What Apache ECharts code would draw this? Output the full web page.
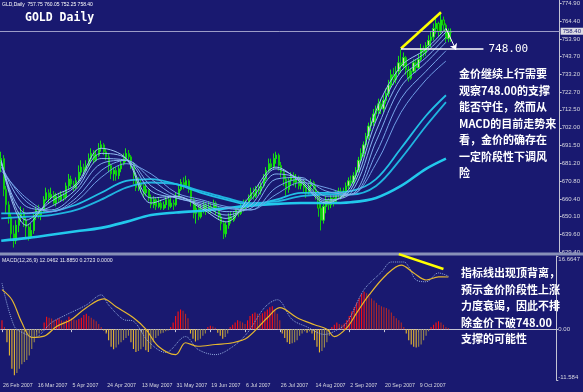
<!DOCTYPE html>
<html><head><meta charset="utf-8">
<script src="https://cdn.jsdelivr.net/npm/echarts@6/dist/echarts.min.js"></script>
<style>html,body{margin:0;padding:0;background:#191970;overflow:hidden}#c{width:583px;height:392px}</style>
</head><body><div id="c"></div>
<script>
// ---------- DATA ----------
// daily bars: [open, high, low, close]
const ohlc = [
[680,688,676,684],[684,686,662,666],[666,668,652,657],[657,659,646,650],[650,652,636,640],
[640,645,632,636],[636,648,634,645],[645,653,641,650],[650,656,647,652],[652,655,644,648],
[648,650,638,644],[644,646,636,638],[638,646,637,642],[642,652,640,650],[650,656,648,654],
[654,657,649,651],[651,655,648,653],[653,662,652,660],[660,667,659,664],[664,666,658,661],
[661,667,660,663],[663,665,657,658],[658,664,656,662],[662,664,658,660],[660,665,659,663],
[663,665,659,661],[661,670,660,668],[668,675,666,672],[672,674,667,669],[669,671,665,667],
[667,673,666,671],[671,680,670,676],[676,683,674,679],[679,681,674,677],[677,683,676,680],
[680,687,679,684],[684,690,682,687],[687,689,681,683],[683,689,682,686],[686,693,685,690],
[690,694.5,688,692],[692,693,686,688],[688,690,683,685],[685,687,676,680],[680,681,672,675],
[675,679,671,677],[677,679,671,674],[674,680,672,678],[678,683,676,681],[681,687,680,684],
[684,690,682,687],[687,689,683,685],[685,686,678,681],[681,682,669,674],[674,676,665,667],
[667,673,665,670],[670,672,664,668],[668,670,661,664],[664,669,662,666],[666,666,659,661],
[661,663,655,657],[657,662,655,660],[660,661,654,656],[656,661,655,658],[658,660,654,655],
[655,659,654,657],[657,662,655,660],[660,661,654,656],[656,661,655,658],[658,660,654,657],
[657,664,656,662],[662,669,661,666],[666,672,665,670],[670,673,666,668],[668,674,667,671],
[671,672,664,666],[666,667,656,660],[660,661,649,652],[652,658,646,655],[655,657,648,650],
[650,657,649,654],[654,659,652,657],[657,658,651,653],[653,659,652,656],[656,658,652,654],
[654,660,653,658],[658,659,651,655],[655,656,648,650],[650,652,642,646],[646,648,637,640],
[640,647,638,645],[645,652,643,650],[650,653,646,648],[648,653,647,651],[651,656,649,654],
[654,656,650,652],[652,658,651,655],[655,660,653,658],[658,660,654,656],[656,663,655,661],
[661,667,660,664],[664,667,660,662],[662,668,661,666],[666,669,663,665],[665,670,663,668],
[668,675,667,672],[672,679,671,677],[677,684,676,681],[681,684,677,679],[679,687,678,684],
[684,688,681,686],[686,687,677,680],[680,682,673,676],[676,678,668,672],[672,674,662,666],
[666,673,664,671],[671,676,668,674],[674,676,668,670],[670,675,667,672],[672,674,666,668],
[668,673,666,671],[671,672,664,667],[667,669,661,664],[664,670,663,668],[668,672,665,670],
[670,671,664,666],[666,668,660,663],[663,665,650,655],[655,658,642,648],[648,659,646,656],
[656,662,652,660],[660,661,654,657],[657,663,655,661],[661,663,656,659],[659,665,658,663],
[663,667,661,665],[665,667,660,662],[662,667,661,665],[665,670,663,668],[668,673,666,671],
[671,674,668,670],[670,676,668,674],[674,679,672,677],[677,685,676,683],[683,690,682,687],
[687,694,685,692],[692,699,690,697],[697,705,695,703],[703,708,700,705],[705,713,703,710],
[710,715,706,712],[712,719,710,716],[716,719,710,713],[713,721,711,718],[718,725,716,722],
[722,730,720,727],[727,736,725,733],[733,737,727,730],[730,738,728,735],[735,744,733,740],
[740,748,734,738],[738,746,736,743],[743,744,733,736],[736,738,729,731],[731,737,730,735],
[735,742,734,740],[740,742,734,737],[737,745,736,742],[742,751,741,748],[748,750,743,746],
[746,752,744,750],[750,756,748,753],[753,758,749,755],[755,763,753,760],[760,766,757,763],
[763,764,755,758],[758,769.5,757,765],[765,767,758,762],[762,763,752,754],[754,760,752,757.75],
[757.75,760.05,752.25,758.40]
];
const priceTicks = [629.40,639.60,650.10,660.40,670.80,681.20,691.50,702.00,712.50,722.70,733.20,743.70,753.90,764.40,774.90];
const dateIdx = [0,14,28,42,56,70,84,98,112,126,140,154,168];
const dateLabels = ['26 Feb 2007','16 Mar 2007','5 Apr 2007','24 Apr 2007','13 May 2007','31 May 2007','19 Jun 2007','6 Jul 2007','26 Jul 2007','14 Aug 2007','2 Sep 2007','20 Sep 2007','9 Oct 2007'];
// moving averages read at these bar indices
const maIdx = [0,10,20,30,40,50,60,70,80,90,100,110,120,130,140,150,160,170,178];
const maFast1 = [682,645,661,669,690,684,658,662,655,647,663,679,670,658,668,712,738,748,760];
const maFast2 = [683,648,659,668,687,684,661,662,656,649,660,678,671,659,666,706,735,746,758];
const maFast3 = [682,652,656,666,684,683,665,661,657,651,657,675,672,660,664,700,731,743,755];
const maFast4 = [681,656,654,664,681,683,668,661,658,653,655,672,673,662,663,694,726,740,752];
const maFast5 = [679,659,653,661,677,683,672,662,659,655,654,667,672,665,663,687,719,735,747];
const maFast6 = [677,661,653,659,673,681,675,664,660,656,654,663,670,667,663,681,711,730,741];
const maSlowA = [652,652,653,657,664,671,672,669,664,660,657,660,664,664,665,672,690,709,721];
const maSlowB = [649,650,651,654,660,667,670,669,665,661,658,659,662,663,663,668,684,703,717];
const maLong  = [636,637.5,639.5,641.5,643.5,647,651,652.5,653.5,655,656.5,657.5,658,658,658.5,661,668,678,684];
// MACD histogram, one value per bar
const hist = [
2.0,0.5,
-3,-6,-9,-10.5,-10,-9,-8,-7.5,-7,-6,-4.5,-3,
-1.5,-1,-0.5,
1.5,2.8,2.6,2.4,2.0,2.2,2.5,2.0,1.8,2.1,2.8,2.5,2.2,2.0,2.3,2.6,3.2,3.5,3.0,2.6,2.2,1.8,1.2,
0.5,-0.3,-1,
-2.5,-4,-4.6,-4.2,-3.5,-3,-2.5,-2,-1.5,
-3,-4.5,-5.2,-5,-4.6,-4,-4.8,-5.2,-4.5,-3,
-2,-1.5,-1,-0.8,-0.5,-0.3,0.5,1.5,
3,4,4.5,4.2,3.5,2.5,
-1,-2.2,-2.8,-2.5,-2.2,-1.5,-1,
0.5,0.8,0.6,0.3,
-0.8,-1.5,-2.2,-1.8,-1,
0.5,1,1.5,2,1.8,1.5,1.2,
2,3,3.5,3.8,3.5,3.2,3.6,4,4.5,5,5.2,4.5,3.5,2,
-1,-2,-3,-3.4,-3.2,-3,-2.5,-1.5,-1,
-0.5,-0.8,-0.5,-1,
-2.5,-4,-5.3,-5,-4.2,-3,-1.5,
0.5,1,1.5,1.2,1,1.3,2,
3,4,5,6,7,8,8.5,8.2,7.5,7,6.5,6,5.5,5.2,5,4.8,4.5,3.8,
3,2.5,2,1.5,0.5,-1,
-2.5,-3.5,-4,-4.2,-4,-3.5,-2.5,-1.5,-0.5,
0.5,1,1.5,1.8,1.5,1,0.5,0.27
];
// MACD lines read at bar indices
const slowIdx = [0,4,8,12,17,22,28,34,41,46,53,58,63,70,74,79,86,93,99,107,112,119,126,131,134,139,143,148,155,161,166,171,176,180];
const slowVal = [9.0,6.7,1.5,-1.9,-1.6,0.6,2.2,4.9,6.9,5.1,2.6,0,-3.9,-5.8,-3.1,-3.9,-3.5,-3.1,-1.9,2.6,4.9,2.6,1.0,0,-1.7,0.3,3.7,7.8,12.4,14.6,12.8,11.2,11.9,11.885];
const fastIdx = [0,5,9,13,20,26,34,40,43,49,53,59,66,74,79,86,93,99,106,111,117,123,130,134,139,146,153,157,162,164,167,171,176,180];
const fastVal = [10.5,0.6,-1.0,-1.9,1.5,3.3,5.5,7.8,5.5,2.2,1.8,-2.8,-5.3,-1.7,-4.6,-5.8,-4.0,-0.8,5.0,6.7,2.2,0.5,-1.2,-0.5,1.5,9.0,13.0,15.3,15.3,14.2,11.2,10.8,12.8,12.05];
const macdTicks = [-11.584, 0, 16.6647];
const macdTickText = ['-11.584', '0.00', '16.6647'];
const priceText = ['金价继续上行需要','观察748.00的支撑','能否守住，然而从','MACD的目前走势来','看，金价的确存在','一定阶段性下调风','险'];
const macdText = ['指标线出现顶背离，','预示金价阶段性上涨','力度衰竭，因此不排','除金价下破748.00','支撑的可能性'];

// ---------- CHART ----------
const SLOTS = 224;
const cats = Array.from({length: SLOTS}, (_, i) => String(i));
const dateMap = {}; dateIdx.forEach((d, k) => dateMap[String(d)] = dateLabels[k]);
const BG = '#191970', AX = '#c4c4d4', LB = '#d8d8e0', SANS = 'Liberation Sans';
const CJK = 'Noto Sans CJK SC';

const chart = echarts.init(document.getElementById('c'), null, {width: 583, height: 392});

function ma(vals, color, width, z) {
  return {type: 'line', xAxisIndex: 0, yAxisIndex: 0, data: maIdx.map((x, k) => [x, vals[k]]),
    smooth: 0.35, showSymbol: false, symbol: 'none', silent: true, animation: false, z: z || 3,
    lineStyle: {color: color, width: width}};
}
const histData = hist.map((v, i) => {
  const prev = i > 0 ? hist[i - 1] : 0;
  let c;
  if (v >= 0) c = v >= prev ? '#ff1010' : '#b02828';
  else c = v <= prev ? '#e8b830' : '#9c8a4c';
  return {value: [i, v], itemStyle: {color: c}};
});

const option = {
  backgroundColor: BG,
  animation: false,
  grid: [
    {left: 0, right: 22, top: 0, height: 252},
    {left: 0, right: 22, top: 256, height: 124}
  ],
  xAxis: [
    {type: 'category', gridIndex: 0, data: cats, axisLine: {show: false}, axisTick: {show: false}, axisLabel: {show: false}, splitLine: {show: false}},
    {type: 'category', gridIndex: 1, data: cats,
      axisLine: {show: true, lineStyle: {color: AX, width: 1}},
      axisTick: {show: true, alignWithLabel: true, length: 3, interval: (i) => dateIdx.indexOf(i) >= 0, lineStyle: {color: AX}},
      axisLabel: {show: true, interval: (i) => dateIdx.indexOf(i) >= 0, formatter: (v) => dateMap[v] || '', align: 'left',
        color: LB, fontSize: 5.3, fontFamily: SANS, margin: 3, padding: [0, 0, 0, 1]},
      splitLine: {show: false}}
  ],
  yAxis: [
    {type: 'value', gridIndex: 0, position: 'right', min: 629.4, max: 776.65, scale: true,
      axisLine: {show: true, lineStyle: {color: AX, width: 1}},
      axisTick: {show: true, length: 2, customValues: priceTicks, lineStyle: {color: AX}},
      axisLabel: {show: true, customValues: priceTicks, formatter: (v) => v.toFixed(2), color: LB, fontSize: 6, fontFamily: SANS, margin: 2},
      splitLine: {show: false}},
    {type: 'value', gridIndex: 1, position: 'right', min: -11.584, max: 16.6647,
      axisLine: {show: true, lineStyle: {color: AX, width: 1}},
      axisTick: {show: true, length: 2, customValues: macdTicks, lineStyle: {color: AX}},
      axisLabel: {show: true, customValues: macdTicks, formatter: (v) => { const k = macdTicks.findIndex(t => Math.abs(t - v) < 1e-6); return k >= 0 ? macdTickText[k] : ''; },
        color: LB, fontSize: 6, fontFamily: SANS, margin: 2, verticalAlignMaxLabel: 'top', verticalAlignMinLabel: 'bottom'},
      splitLine: {show: false}}
  ],
  series: [
    ma(maLong, '#22c8ec', 2.6, 3),
    ma(maSlowB, '#1fb4e0', 1.8, 3),
    ma(maSlowA, '#22bfe6', 1.8, 3),
    ma(maFast6, '#6f9ee6', 1, 4),
    ma(maFast5, '#78a6ea', 1, 4),
    ma(maFast4, '#80aeee', 1, 4),
    ma(maFast3, '#88b4f0', 1, 4),
    ma(maFast2, '#90bcf2', 1, 4),
    ma(maFast1, '#9cc4f4', 1, 4),
    {type: 'candlestick', xAxisIndex: 0, yAxisIndex: 0, z: 2, silent: true, barWidth: 1.6,
      data: ohlc.map(r => [r[0], r[3], r[2], r[1]]),
      itemStyle: {color: '#d8d8b0', color0: '#0b5e0b', borderColor: '#14e014', borderColor0: '#10c810', borderWidth: 1},
      markLine: {silent: true, animation: false, symbol: ['none', 'none'], label: {show: false},
        data: [
          {yAxis: 758.4, lineStyle: {color: '#9c9cc8', width: 1, type: 'solid'},
            label: {show: true, position: 'end', formatter: '758.40', distance: 1, color: '#191970', backgroundColor: '#dcdce4', fontSize: 6, fontFamily: SANS, padding: [1, 2, 0, 2]}},
          [{coord: [160, 748.3], lineStyle: {color: '#ffff00', width: 2.5, type: 'solid'}}, {coord: [176, 769.5]}],
          [{coord: [160, 748], lineStyle: {color: '#ffffff', width: 1.5, type: 'solid'},
            label: {show: true, position: 'end', formatter: '748.00', color: '#ffffff', fontSize: 11, fontFamily: 'DejaVu Sans Mono', distance: 5}}, {coord: [193, 748]}],
          [{coord: [178, 760], symbol: 'none', lineStyle: {color: '#ffffff', width: 1, type: 'solid'}}, {coord: [182, 747.5], symbol: 'arrow', symbolSize: 6}]
        ]}
    },
    {type: 'bar', xAxisIndex: 1, yAxisIndex: 1, data: histData, barWidth: 1.1, silent: true, z: 2},
    {type: 'line', xAxisIndex: 1, yAxisIndex: 1, data: fastIdx.map((x, k) => [x, fastVal[k]]), smooth: 0.35, showSymbol: false, symbol: 'none', silent: true, z: 3,
      lineStyle: {color: '#90a8dc', width: 1, type: 'dotted'}},
    {type: 'line', xAxisIndex: 1, yAxisIndex: 1, data: slowIdx.map((x, k) => [x, slowVal[k]]), smooth: 0.35, showSymbol: false, symbol: 'none', silent: true, z: 4,
      lineStyle: {color: '#e6b830', width: 1.2}}
  ],
  graphic: {elements: [
    {id: 'sep', type: 'rect', shape: {x: 0, y: 252.5, width: 583, height: 3}, style: {fill: '#8890b8'}, z: 10, silent: true},
    {id: 't1', type: 'text', x: 2, y: 2, style: {text: 'GLD,Daily  757.75 760.05 752.25 758.40', fill: '#ffffff', fontSize: 5, fontFamily: SANS}, z: 10, silent: true},
    {id: 't2', type: 'text', x: 25, y: 12, style: {text: 'GOLD Daily', fill: '#ffffff', fontSize: 11.5, fontWeight: 'bold', fontFamily: 'DejaVu Sans Mono'}, z: 10, silent: true},
    {id: 't3', type: 'text', x: 2, y: 258, style: {text: 'MACD(12,26,9) 12.0462 11.8850 0.2723 0.0000', fill: '#e8e8f0', fontSize: 5.2, fontFamily: SANS}, z: 10, silent: true},
    {id: 't4', type: 'text', x: 459, y: 66, style: {text: priceText.join('\n'), fill: '#ffffff', fontSize: 11, lineHeight: 16.5, fontWeight: 'bold', fontFamily: CJK}, z: 10, silent: true},
    {id: 't5', type: 'text', x: 461, y: 265, style: {text: macdText.join('\n'), fill: '#ffffff', fontSize: 11, lineHeight: 16.5, fontWeight: 'bold', fontFamily: CJK}, z: 10, silent: true}
  ]}
};
chart.setOption(option);
const p1 = chart.convertToPixel({gridIndex: 1}, [160, 17.1]);
const p2 = chart.convertToPixel({gridIndex: 1}, [178, 13.7]);
chart.setOption({graphic: {elements: [
  {id: 'macdYellow', type: 'line', shape: {x1: p1[0], y1: p1[1], x2: p2[0], y2: p2[1]}, style: {stroke: '#ffff00', lineWidth: 2.5}, z: 11, silent: true}
]}});
</script></body></html>
